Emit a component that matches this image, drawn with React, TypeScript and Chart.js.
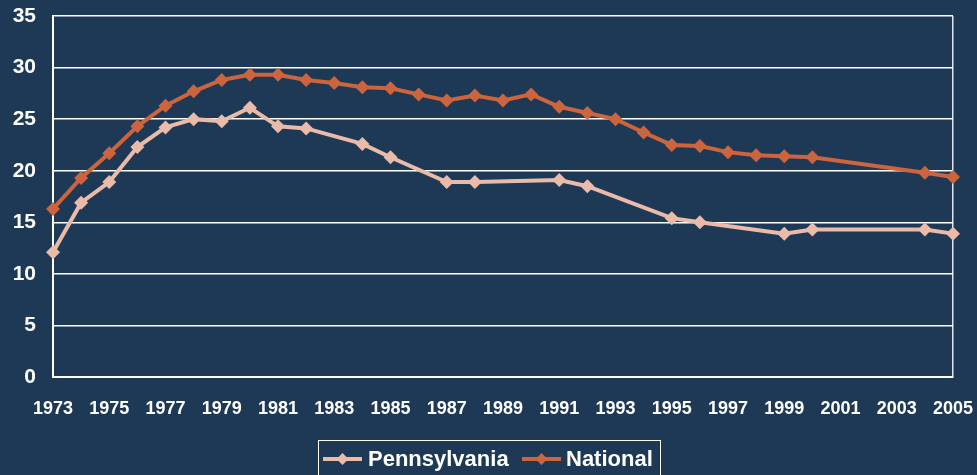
import React, { useEffect, useRef } from "react";
import { Chart, registerables } from "chart.js";

Chart.register(...registerables);

const paYears = [1973, 1974, 1975, 1976, 1977, 1978, 1979, 1980, 1981, 1982, 1984, 1985, 1987, 1988, 1991, 1992, 1995, 1996, 1999, 2000, 2004, 2005];
const paValues = [12.1, 16.9, 18.9, 22.3, 24.2, 25.0, 24.8, 26.1, 24.3, 24.1, 22.6, 21.3, 18.9, 18.9, 19.1, 18.5, 15.4, 15.0, 13.9, 14.3, 14.3, 13.9];

const natYears = [1973, 1974, 1975, 1976, 1977, 1978, 1979, 1980, 1981, 1982, 1983, 1984, 1985, 1986, 1987, 1988, 1989, 1990, 1991, 1992, 1993, 1994, 1995, 1996, 1997, 1998, 1999, 2000, 2004, 2005];
const natValues = [16.3, 19.3, 21.7, 24.3, 26.3, 27.7, 28.8, 29.3, 29.3, 28.8, 28.5, 28.1, 28.0, 27.4, 26.8, 27.3, 26.8, 27.4, 26.2, 25.6, 25.0, 23.7, 22.5, 22.4, 21.8, 21.5, 21.4, 21.3, 19.8, 19.4];

const seriesNames = ["Pennsylvania", "National"];
const seriesColors = ["#EBBBAA", "#CC643E"];

const BG = "#1E3956";
const FONT = "'Liberation Sans', Arial, sans-serif";

const legendPlugin = {
  id: "boxLegend",
  afterDraw(chart: any) {
    const ctx = chart.ctx;
    ctx.save();
    ctx.strokeStyle = "#FFFFFF";
    ctx.lineWidth = 1;
    ctx.strokeRect(318.5, 440.5, 342, 40);
    const items = [
      { x0: 323, x1: 362, tx: 368 },
      { x0: 522, x1: 561, tx: 566 },
    ];
    const y = 459;
    items.forEach((it, i) => {
      ctx.strokeStyle = seriesColors[i];
      ctx.lineWidth = 4;
      ctx.beginPath();
      ctx.moveTo(it.x0, y);
      ctx.lineTo(it.x1, y);
      ctx.stroke();
      const cx = (it.x0 + it.x1) / 2;
      ctx.fillStyle = seriesColors[i];
      ctx.beginPath();
      ctx.moveTo(cx, y - 6);
      ctx.lineTo(cx + 6, y);
      ctx.lineTo(cx, y + 6);
      ctx.lineTo(cx - 6, y);
      ctx.closePath();
      ctx.fill();
      ctx.fillStyle = "#FFFFFF";
      ctx.font = `bold 22px ${FONT}`;
      ctx.textBaseline = "middle";
      ctx.textAlign = "left";
      ctx.fillText(seriesNames[i], it.tx, y + 1);
    });
    ctx.restore();
  },
};

export default function App() {
  const ref = useRef<HTMLCanvasElement | null>(null);
  useEffect(() => {
    document.body.style.margin = "0";
    document.body.style.background = BG;
    const canvas = ref.current!;
    const chart = new Chart(canvas, {
      type: "line",
      data: {
        datasets: [
          {
            label: seriesNames[0],
            data: paYears.map((x, i) => ({ x, y: paValues[i] })),
            borderColor: seriesColors[0],
            backgroundColor: seriesColors[0],
            borderWidth: 4,
            pointStyle: "rectRot",
            pointRadius: 7,
            pointBorderWidth: 0,
            tension: 0,
            clip: false as any,
          },
          {
            label: seriesNames[1],
            data: natYears.map((x, i) => ({ x, y: natValues[i] })),
            borderColor: seriesColors[1],
            backgroundColor: seriesColors[1],
            borderWidth: 4,
            pointStyle: "rectRot",
            pointRadius: 7,
            pointBorderWidth: 0,
            tension: 0,
            clip: false as any,
          },
        ],
      },
      options: {
        animation: false,
        responsive: false,
        maintainAspectRatio: false,
        layout: { padding: { left: 0, right: 24, top: 16, bottom: 0 } },
        plugins: { legend: { display: false }, tooltip: { enabled: false } },
        scales: {
          x: {
            type: "linear",
            min: 1973,
            max: 2005,
            afterFit: (s: any) => {
              s.height = 98;
              s.paddingLeft = 0;
              s.paddingRight = 0;
            },
            ticks: {
              stepSize: 2,
              color: "#FFFFFF",
              font: { family: FONT, weight: "bold", size: 18 },
              padding: 21,
              maxRotation: 0,
              autoSkip: false,
              callback: (v: any) => String(v),
            },
            grid: {
              drawTicks: false,
              color: (c: any) => (c.tick && c.tick.value === 2005 ? "#E0E4EA" : "rgba(0,0,0,0)"),
              lineWidth: 1.5,
            },
            border: { color: "#FFFFFF", width: 2 },
          },
          y: {
            min: 0,
            max: 35,
            afterFit: (s: any) => {
              s.width = 53;
              s.paddingTop = 0;
              s.paddingBottom = 0;
            },
            ticks: {
              stepSize: 5,
              color: "#FFFFFF",
              font: { family: FONT, weight: "bold", size: 21 },
              padding: 17,
            },
            grid: { drawTicks: false, color: "#FFFFFF", lineWidth: 1.5 },
            border: { color: "#FFFFFF", width: 2 },
          },
        },
      },
      plugins: [legendPlugin],
    });
    return () => chart.destroy();
  }, []);
  return (
    <div style={{ width: 977, height: 475, background: BG }}>
      <canvas ref={ref} width={977} height={475} style={{ display: "block", width: 977, height: 475 }} />
    </div>
  );
}
